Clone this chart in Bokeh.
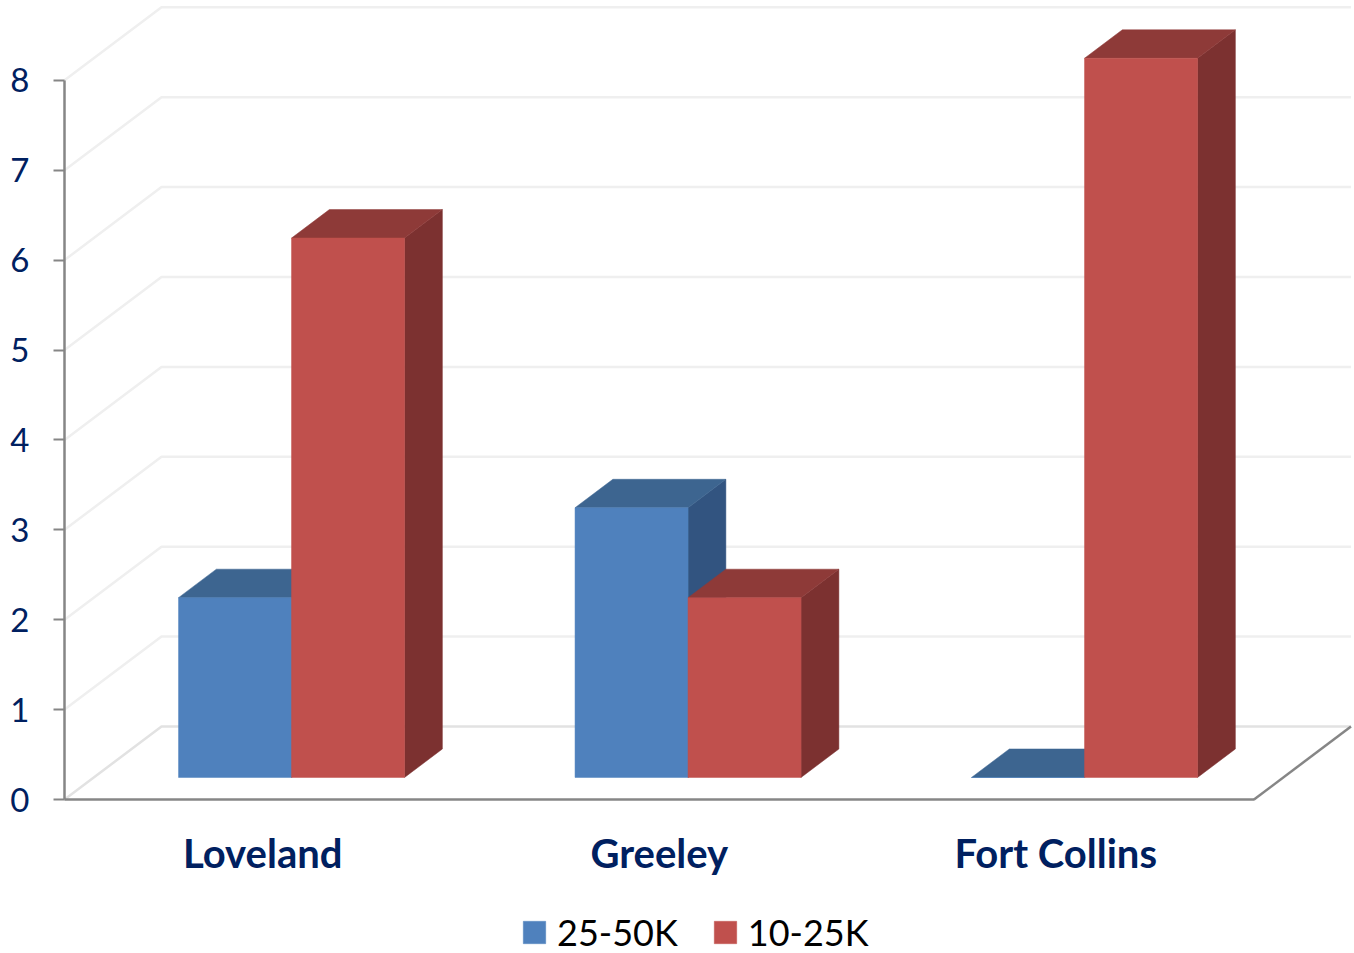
from bokeh.embed import file_html
from bokeh.models import FixedTicker, Legend, LegendItem, Range1d
from bokeh.plotting import figure
from bokeh.resources import INLINE

# Chart data
categories = ["Loveland", "Greeley", "Fort Collins"]
series_names = ["25-50K", "10-25K"]
values_25_50k = [2, 3, 0]
values_10_25k = [6, 2, 8]
y_ticks = [0, 1, 2, 3, 4, 5, 6, 7, 8]

# Shades of each series: front face, top face, side face
blue = ("#4F81BD", "#3D6590", "#325480")
red = ("#C0504D", "#8E3A38", "#7C3130")

NAVY = "#002060"
AXIS_GREY = "#868686"
FONT = "Lato"

# Scale of the drawing: pixels per category and per value unit
PX_PER_CATEGORY = 396.5
PX_PER_UNIT = 89.9

# Oblique projection of the depth axis, in data units
WALL_DX = 97 / PX_PER_CATEGORY
WALL_DY = 73 / PX_PER_UNIT
BAR_INSET = 0.302    # share of the depth in front of the bars
BAR_DEPTH = 0.39     # share of the depth taken by the bars
BAR_WIDTH = 113 / PX_PER_CATEGORY
BAR_NUDGE = -0.5 / PX_PER_CATEGORY

# The plot area fills the page; the two axes float inside it
x_start = -0.5 - 64 / PX_PER_CATEGORY
y_start = -154 / PX_PER_UNIT
p = figure(
    width=1354, height=953, output_backend="svg", toolbar_location=None,
    x_range=Range1d(x_start, x_start + 1354 / PX_PER_CATEGORY),
    y_range=Range1d(y_start, y_start + 953 / PX_PER_UNIT),
    min_border_left=0, min_border_right=0, min_border_top=0, min_border_bottom=0,
    background_fill_color="white", border_fill_color="white",
)
p.outline_line_color = None
p.grid.visible = False

# Side wall and back wall gridlines
wall_colors = ["#E2E2E2"] + ["#EFEFEF"] * (len(y_ticks) - 1)
p.multi_line(
    xs=[[-0.5, -0.5 + WALL_DX, 2.5 + WALL_DX] for _ in y_ticks],
    ys=[[t, t + WALL_DY, t + WALL_DY] for t in y_ticks],
    line_color=wall_colors, line_width=2.5,
)
# Right edge of the floor
p.line([2.5, 2.5 + WALL_DX], [0, WALL_DY], line_color=AXIS_GREY, line_width=2.5)


def draw_bar(left, value, shades):
    """Draw one oblique bar and return the renderer of its front face."""
    base = WALL_DY * BAR_INSET
    x0 = left + WALL_DX * BAR_INSET + BAR_NUDGE
    x1 = x0 + BAR_WIDTH
    ddx = WALL_DX * BAR_DEPTH
    ddy = WALL_DY * BAR_DEPTH
    top = base + value
    if value > 0:
        p.patch([x1, x1 + ddx, x1 + ddx, x1], [base, base + ddy, top + ddy, top],
                fill_color=shades[2], line_color=shades[2], line_width=0.5)
    p.patch([x0, x1, x1 + ddx, x0 + ddx], [top, top, top + ddy, top + ddy],
            fill_color=shades[1], line_color=shades[1], line_width=0.5)
    return p.quad(left=[x0], right=[x1], bottom=[base], top=[top],
                  fill_color=shades[0], line_color=shades[0], line_width=0.5)


blue_front = None
red_front = None
for i in range(len(categories)):
    r_blue = draw_bar(i - BAR_WIDTH, values_25_50k[i], blue)
    r_red = draw_bar(i, values_10_25k[i], red)
    blue_front = blue_front or r_blue
    red_front = red_front or r_red

# Value axis
y_axis = p.yaxis[0]
y_axis.fixed_location = -0.5
y_axis.ticker = FixedTicker(ticks=y_ticks)
y_axis.bounds = (0, 8)
y_axis.axis_line_color = AXIS_GREY
y_axis.axis_line_width = 2.5
y_axis.major_tick_line_color = AXIS_GREY
y_axis.major_tick_line_width = 2
y_axis.major_tick_out = 11
y_axis.major_tick_in = 0
y_axis.minor_tick_line_color = None
y_axis.major_label_standoff = 24
y_axis.major_label_text_font = FONT
y_axis.major_label_text_font_size = "33px"
y_axis.major_label_text_color = NAVY

# Category axis
x_axis = p.xaxis[0]
x_axis.fixed_location = 0
x_axis.ticker = FixedTicker(ticks=list(range(len(categories))))
x_axis.major_label_overrides = {i: c for i, c in enumerate(categories)}
x_axis.bounds = (-0.5, 2.5)
x_axis.axis_line_color = AXIS_GREY
x_axis.axis_line_width = 2.5
x_axis.major_tick_line_color = None
x_axis.minor_tick_line_color = None
x_axis.major_label_standoff = 23
x_axis.major_label_text_font = FONT
x_axis.major_label_text_font_style = "bold"
x_axis.major_label_text_font_size = "40px"
x_axis.major_label_text_color = NAVY

legend = Legend(
    items=[LegendItem(label=series_names[0], renderers=[blue_front]),
           LegendItem(label=series_names[1], renderers=[red_front])],
    orientation="horizontal",
    location=(520, -1),
    background_fill_alpha=0, border_line_color=None,
    glyph_width=28, glyph_height=28, label_standoff=9, spacing=33,
    label_text_font=FONT, label_text_font_size="36px", label_text_color="#000000",
    padding=0, margin=0,
)
p.add_layout(legend, "center")

with open("out.html", "w") as f:
    f.write(file_html(p, INLINE))
